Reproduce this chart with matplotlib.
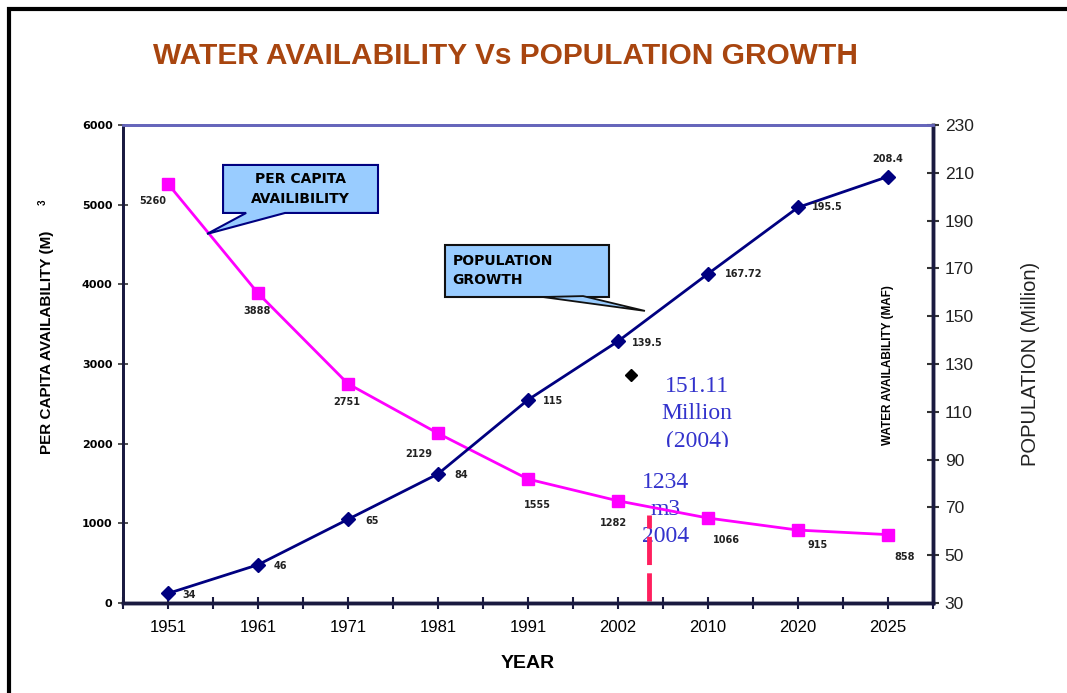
import numpy as np
import matplotlib.pyplot as plt
from matplotlib import font_manager
from matplotlib.patches import Polygon, Rectangle

years = ['1951', '1961', '1971', '1981', '1991', '2002', '2010', '2020', '2025']
per_capita = [5260, 3888, 2751, 2129, 1555, 1282, 1066, 915, 858]
population = [34, 46, 65, 84, 115, 139.5, 167.72, 195.5, 208.4]
per_capita_text = ['5260', '3888', '2751', '2129', '1555', '1282', '1066', '915', '858']
population_text = ['34', '46', '65', '84', '115', '139.5', '167.72', '195.5', '208.4']

# label offsets in points (dx, dy) for each point
pc_offsets = [(-11, -12), (-1, -13), (-1, -13), (-14, -15), (7, -19), (-3, -16), (13, -16), (14, -11), (12, -16)]
pop_offsets = [(15, -1), (16, -1), (17, -1), (17, -1), (18, -1), (21, -1), (26, 0), (21, 0), (0, 13)]

year_2004_x = 5.35
pop_2004_marker = 125.4

names = {f.name for f in font_manager.fontManager.ttflist}
narrow = 'Liberation Sans Narrow' if 'Liberation Sans Narrow' in names else 'Liberation Sans'
sans = 'Liberation Sans'
wide = 'DejaVu Sans'

fig = plt.figure(figsize=(10.67, 6.93), dpi=100)
ax = fig.add_axes([0.1153, 0.1299, 0.7591, 0.6898])
ax2 = ax.twinx()

navy = '#000080'
magenta = '#ff00ff'
x = np.arange(len(years))

ax.plot(x, per_capita, color=magenta, lw=2, marker='s', ms=9, zorder=3)
ax2.plot(x, population, color=navy, lw=2, marker='D', ms=7, zorder=3)

for xi, v, t, (dx, dy) in zip(x, per_capita, per_capita_text, pc_offsets):
    ax.annotate(t, (xi, v), xytext=(dx, dy), textcoords='offset points',
                ha='center', va='center', fontsize=7, fontweight='bold',
                family=wide, color='#222222')
for xi, v, t, (dx, dy) in zip(x, population, population_text, pop_offsets):
    ax2.annotate(t, (xi, v), xytext=(dx, dy), textcoords='offset points',
                 ha='center', va='center', fontsize=7, fontweight='bold',
                 family=wide, color='#222222')

# 2004 marker and dashed line
ax2.plot([year_2004_x - 0.21], [pop_2004_marker], marker='D', ms=6, color='black', zorder=4)
ax.plot([year_2004_x, year_2004_x], [20, 1110], color='#ff1f5e', lw=3.5,
        dashes=(5.8, 1.7), zorder=2, clip_on=False)

ax.set_xlim(-0.5, 8.5)
ax.set_ylim(0, 6000)
ax2.set_ylim(30, 230)
ax.set_xticks(x)
ax.set_xticklabels(years, fontsize=12, family=sans)
ax.set_xticks(np.arange(-0.5, 9, 1.0), minor=True)
ax.set_yticks(np.arange(0, 6001, 1000))
ax.set_yticklabels([str(v) for v in range(0, 6001, 1000)], fontsize=8,
                   fontweight='bold', family=wide)
ax2.set_yticks(np.arange(30, 231, 20))
ax2.set_yticklabels([str(v) for v in range(30, 231, 20)], fontsize=12.5,
                    family=sans, color='#222222')

ax.tick_params(axis='x', which='both', direction='inout', length=9, width=1.5,
               color='#1a1a40', pad=8)
ax.tick_params(axis='y', direction='inout', length=7, width=1.2, color='#333333', pad=4)
ax2.tick_params(axis='y', direction='inout', length=9, width=1.5, color='#333333', pad=4)

for a in (ax, ax2):
    a.spines['top'].set_color('#6666bb')
    a.spines['top'].set_linewidth(2)
    a.spines['left'].set_color('#1a1a40')
    a.spines['left'].set_linewidth(2)
    a.spines['right'].set_color('#1a1a40')
    a.spines['right'].set_linewidth(2.5)
    a.spines['bottom'].set_color('#1a1a40')
    a.spines['bottom'].set_linewidth(2.5)

ax.set_xlabel('YEAR', fontsize=14, fontweight='bold', family=sans, labelpad=14)
fig.text(47 / 1067, 1 - 342 / 693, 'PER CAPITA AVAILABILITY (M)', rotation=90,
         fontsize=11, fontweight='bold', family=sans, ha='center', va='center')
fig.text(43 / 1067, 1 - 202 / 693, '3', rotation=90, fontsize=7, fontweight='bold',
         family=sans, ha='center', va='center')
ax2.set_ylabel('POPULATION (Million)', fontsize=14.5, family=sans, labelpad=34,
               color='#222222')
ax2.text(0.945, 0.497, 'WATER AVAILABILITY (MAF)', transform=ax2.transAxes,
         rotation=90, fontsize=8.5, fontweight='bold', family=sans,
         ha='center', va='center')

fig.text(505 / 1067, 1 - 56 / 693, 'WATER AVAILABILITY Vs POPULATION GROWTH',
         fontsize=21.5, fontweight='bold', family=narrow, color='#a8450f',
         ha='center', va='center')

# callout boxes
box_fill = '#99ccff'
ax.add_patch(Polygon([(0.1235, 0.9163), (0.3148, 0.9163), (0.3148, 0.8159),
                      (0.20, 0.8159), (0.1037, 0.772), (0.152, 0.8159),
                      (0.1235, 0.8159)], closed=True, transform=ax.transAxes,
                     facecolor=box_fill, edgecolor=navy, lw=1.5, zorder=5,
                     clip_on=False))
ax.text(0.219, 0.866, 'PER CAPITA\nAVAILIBILITY', transform=ax.transAxes,
        ha='center', va='center', fontsize=10, fontweight='bold', family=wide,
        linespacing=1.5, zorder=6)

ax.add_patch(Rectangle((0.3975, 0.640), 0.2025, 0.109, transform=ax.transAxes,
                       facecolor=box_fill, edgecolor='#111111', lw=1.5, zorder=5))
ax.add_patch(Polygon([(0.5185, 0.640), (0.6444, 0.611), (0.568, 0.642)],
                     closed=True, transform=ax.transAxes, facecolor=box_fill,
                     edgecolor='#111111', lw=1.3, zorder=5))
ax.text(0.407, 0.695, 'POPULATION\nGROWTH', transform=ax.transAxes,
        ha='left', va='center', fontsize=10, fontweight='bold', family=wide,
        linespacing=1.5, zorder=6)

# 2004 notes; their text boxes are too short, so the last line is cut off
serif = 'Liberation Serif'
ax.text(0.7086, 0.474, '151.11\nMillion\n(2004)', transform=ax.transAxes,
        ha='center', va='top', fontsize=17, family=serif,
        color='#3333cc', linespacing=1.38, zorder=6)
ax.add_patch(Rectangle((0.64, 0.286), 0.14, 0.041, transform=ax.transAxes,
                       facecolor='white', edgecolor='none', zorder=6.5))
ax.text(0.670, 0.274, '1234\nm3\n2004', transform=ax.transAxes,
        ha='center', va='top', fontsize=17, family=serif,
        color='#3333cc', linespacing=1.38, zorder=1)
ax.add_patch(Rectangle((0.62, 0.085), 0.1, 0.043, transform=ax.transAxes,
                       facecolor='white', edgecolor='none', zorder=1.5))

# page frame
fig.add_artist(Rectangle((9 / 1067, -0.1), 1.2, 1 - 9 / 693 + 0.1,
                         transform=fig.transFigure, fill=False,
                         edgecolor='black', lw=3))

fig.savefig('out.png', dpi=100)
